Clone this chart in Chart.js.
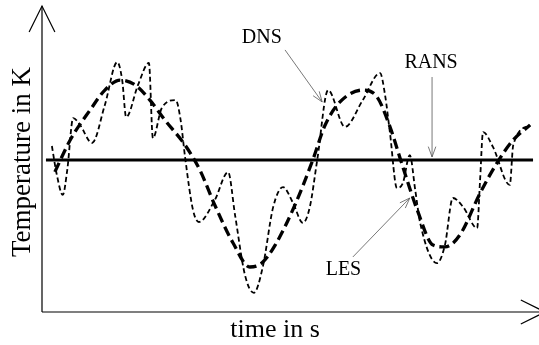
<!DOCTYPE html>
<html>
<head>
<meta charset="utf-8">
<script src="https://cdn.jsdelivr.net/npm/chart.js@4/dist/chart.umd.min.js"></script>
<style>
  html, body { margin: 0; padding: 0; background: #fff; }
  canvas { display: block; }
</style>
</head>
<body>
<canvas id="chart" width="539" height="345"></canvas>
<script>
// time (s) and temperature samples for each model
const dnsTime = [0.20, 0.30, 0.42, 0.51, 0.63, 0.77, 1.01, 1.27, 1.52, 1.62, 1.70, 1.94, 2.16, 2.24, 2.42, 2.70, 2.80, 2.89, 3.05, 3.17,
  3.49, 3.76, 3.90, 4.10, 4.28, 4.46, 4.67, 4.87, 5.07, 5.27, 5.41, 5.56, 5.78, 6.12, 6.48, 6.83, 6.93, 7.03, 7.17, 7.29,
  7.43, 7.54, 7.64, 7.98, 8.14, 8.30, 8.51, 8.79, 8.85, 8.91, 9.11, 9.45, 9.52, 9.86]
const dnsTemp = [5.46, 4.51, 3.85, 4.67, 6.38, 6.15, 5.56, 6.81, 8.22, 7.63, 6.41, 7.47, 8.19, 5.72, 6.71, 6.97, 6.32, 5.10, 3.36, 2.96,
  3.68, 4.60, 3.19, 1.22, 0.63, 1.48, 3.45, 4.11, 3.59, 2.93, 3.45, 5.00, 7.30, 6.09, 6.97, 7.86, 7.14, 5.89, 4.08, 4.24,
  5.16, 4.01, 2.93, 1.61, 2.20, 3.75, 3.45, 2.76, 4.34, 5.92, 5.43, 4.18, 5.49, 6.15]

const lesTime = [0.26, 0.57, 0.97, 1.27, 1.58, 1.88, 2.18, 2.48, 2.89, 3.19, 3.49, 3.86, 4.20, 4.44, 4.71, 5.11, 5.47, 5.72, 6.02, 6.48,
  6.77, 7.03, 7.29, 7.58, 7.90, 8.14, 8.44, 8.85, 9.19, 9.52, 9.86]
const lesTemp = [4.61, 5.66, 6.64, 7.30, 7.63, 7.47, 6.97, 6.32, 5.49, 4.67, 3.52, 2.27, 1.48, 1.61, 2.20, 3.52, 5.00, 6.15, 6.91, 7.30,
  7.07, 6.09, 4.77, 3.36, 2.20, 2.14, 2.53, 3.91, 4.90, 5.66, 6.15]

const ransTime = [0.08, 9.92]
const ransTemp = [5.0, 5.0]

// labels with their pointer arrows, in data units
const notes = [
  { text: 'DNS', at: [4.44, 8.85], from: [4.91, 8.62], to: [5.66, 6.91] },
  { text: 'RANS', at: [7.86, 8.03], from: [7.88, 7.73], to: [7.88, 5.10] },
  { text: 'LES', at: [6.09, 1.22], from: [6.28, 1.81], to: [7.43, 3.75] },
]

const serif = '"Liberation Serif", "DejaVu Serif", serif'
const toPoints = (xs, ys) => xs.map((x, i) => ({ x: x, y: ys[i] }))

const arrowHead = (ctx, x0, y0, x1, y1, len, spread) => {
  const a = Math.atan2(y1 - y0, x1 - x0)
  ctx.beginPath()
  ctx.moveTo(x1 - len * Math.cos(a - spread), y1 - len * Math.sin(a - spread))
  ctx.lineTo(x1, y1)
  ctx.lineTo(x1 - len * Math.cos(a + spread), y1 - len * Math.sin(a + spread))
  ctx.stroke()
}

const sketchAxes = {
  id: 'sketchAxes',
  afterDraw(chart) {
    const { ctx, chartArea, scales } = chart
    const x0 = chartArea.left
    const y0 = chartArea.bottom
    ctx.save()
    ctx.strokeStyle = '#000'
    ctx.lineWidth = 1.2
    ctx.beginPath()
    ctx.moveTo(x0, y0)
    ctx.lineTo(x0, 6)
    ctx.moveTo(x0, y0)
    ctx.lineTo(545, y0)
    ctx.stroke()
    arrowHead(ctx, x0, y0, x0, 6, 29, 0.46)
    arrowHead(ctx, x0, y0, 545, y0, 27, 0.46)

    ctx.fillStyle = '#000'
    ctx.textAlign = 'center'
    ctx.textBaseline = 'alphabetic'
    ctx.font = '26px ' + serif
    ctx.fillText('time in s', 275, 337)
    ctx.save()
    ctx.font = '27px ' + serif
    ctx.translate(30, 162)
    ctx.rotate(-Math.PI / 2)
    ctx.fillText('Temperature in K', 0, 0)
    ctx.restore()

    ctx.font = '20px ' + serif
    notes.forEach((n) => {
      const px = (p) => [scales.x.getPixelForValue(p[0]), scales.y.getPixelForValue(p[1])]
      const at = px(n.at)
      const from = px(n.from)
      const to = px(n.to)
      ctx.fillStyle = '#000'
      ctx.fillText(n.text, at[0], at[1])
      ctx.strokeStyle = '#555'
      ctx.lineWidth = 0.8
      ctx.beginPath()
      ctx.moveTo(from[0], from[1])
      ctx.lineTo(to[0], to[1])
      ctx.stroke()
      arrowHead(ctx, from[0], from[1], to[0], to[1], 11, 0.35)
    })
    ctx.restore()
  },
}

new Chart(document.getElementById('chart'), {
  type: 'line',
  data: {
    datasets: [
      {
        label: 'RANS',
        data: toPoints(ransTime, ransTemp),
        borderColor: '#000',
        borderWidth: 3.2,
        pointRadius: 0,
      },
      {
        label: 'LES',
        data: toPoints(lesTime, lesTemp),
        borderColor: '#000',
        borderWidth: 3.3,
        borderDash: [10, 5],
        pointRadius: 0,
        cubicInterpolationMode: 'monotone',
      },
      {
        label: 'DNS',
        data: toPoints(dnsTime, dnsTemp),
        borderColor: '#000',
        borderWidth: 1.8,
        borderDash: [5, 3],
        pointRadius: 0,
        cubicInterpolationMode: 'monotone',
      },
    ],
  },
  options: {
    responsive: false,
    devicePixelRatio: 1,
    animation: false,
    layout: { padding: { left: 42, right: 2, top: 8, bottom: 33 } },
    plugins: { legend: { display: false }, tooltip: { enabled: false } },
    scales: {
      x: { type: 'linear', min: 0, max: 10, display: false },
      y: { type: 'linear', min: 0, max: 10, display: false },
    },
  },
  plugins: [sketchAxes],
})
</script>
</body>
</html>
